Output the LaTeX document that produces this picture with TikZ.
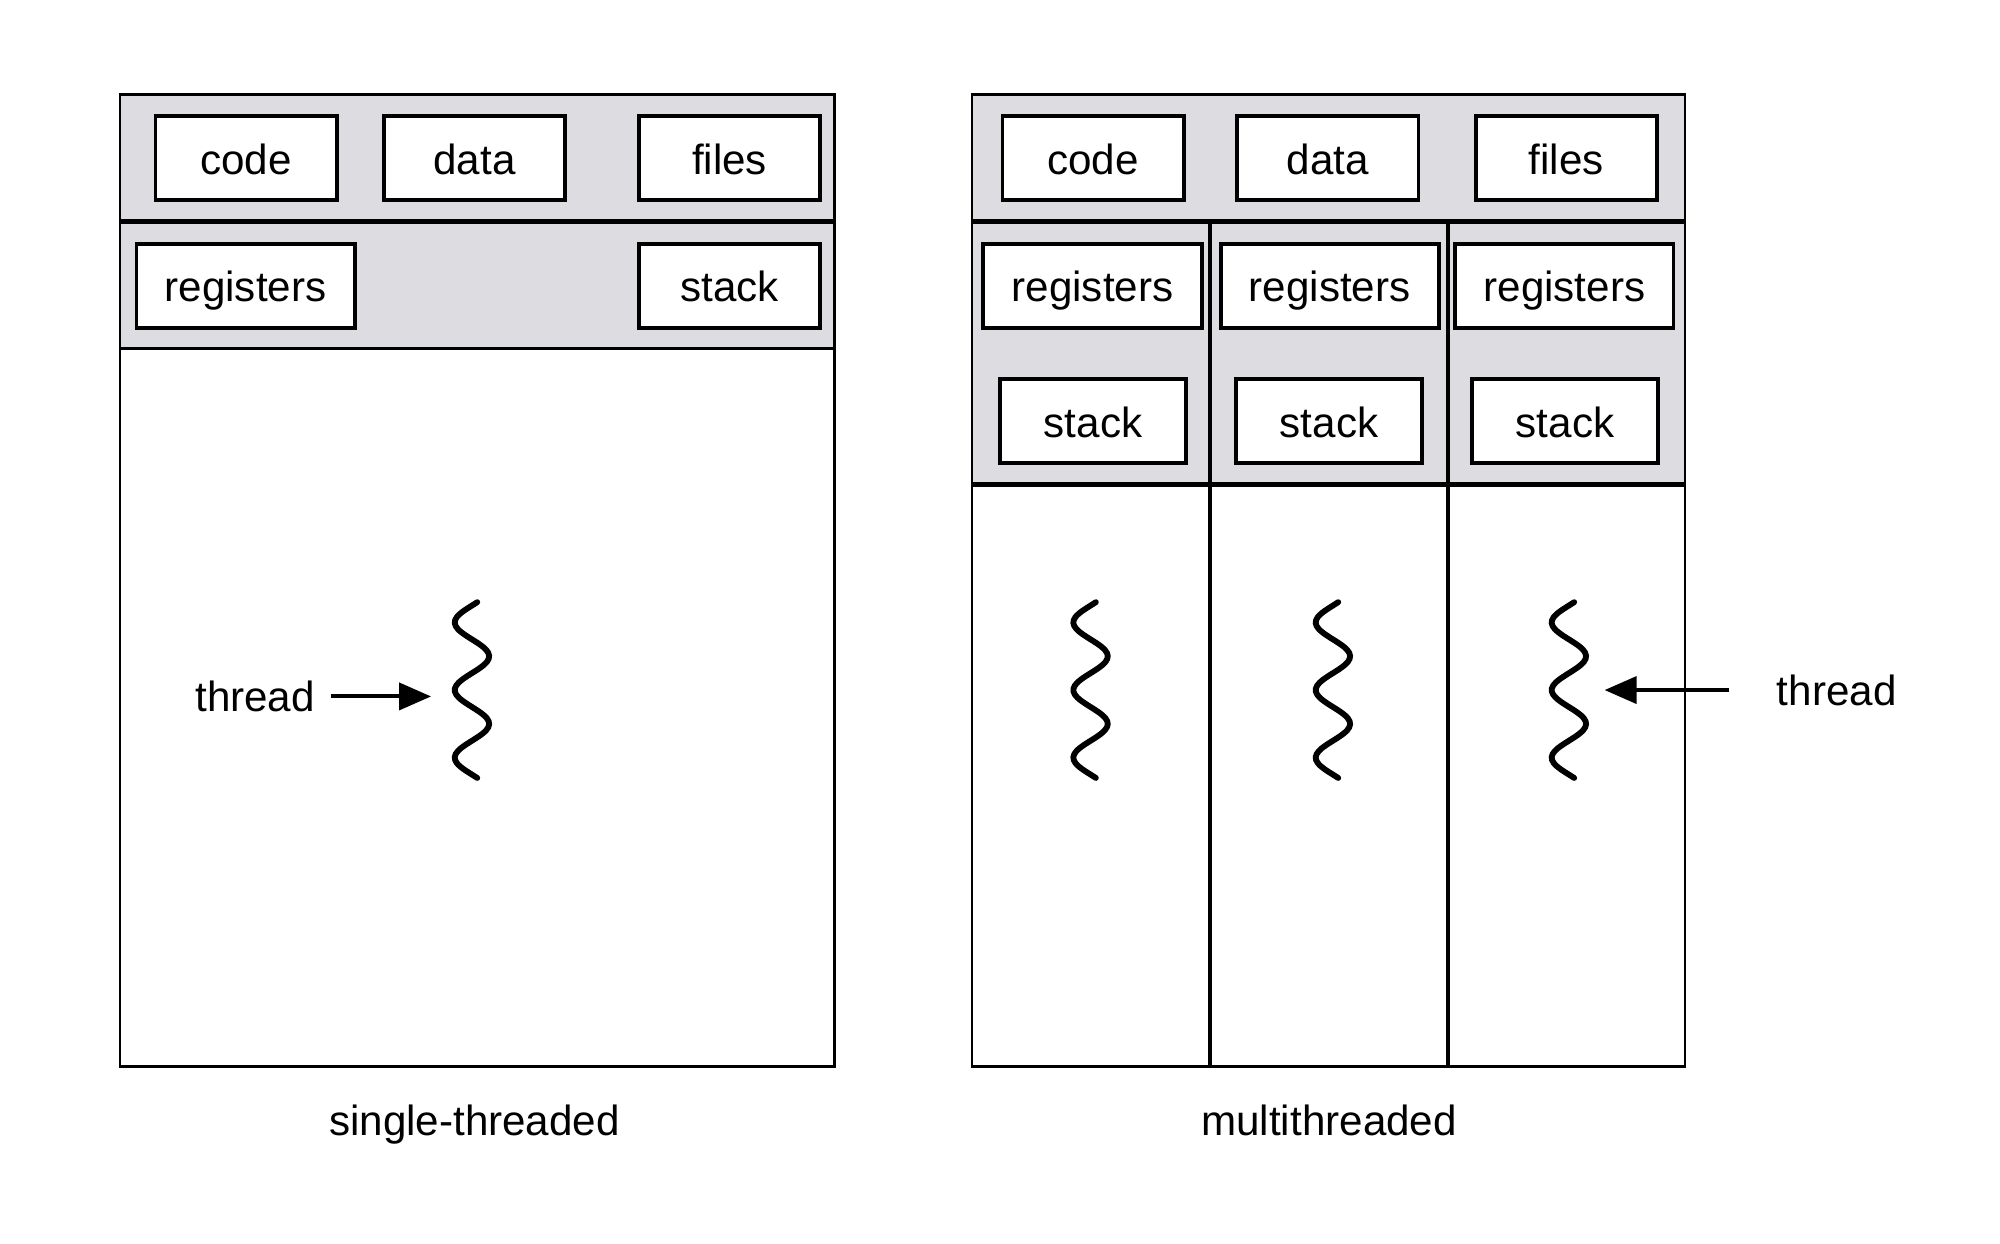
\documentclass[tikz,border=0pt]{standalone}
\usepackage{fontspec}
\setmainfont{Liberation Sans}
\usetikzlibrary{positioning,calc,arrows.meta}
\definecolor{procgray}{RGB}{221,220,224}
\tikzset{font=\fontsize{9.4}{11}\selectfont}
\tikzset{
	membox/.style={draw, line width=0.85pt, fill=white, minimum height=0.66cm, inner sep=0pt, text height=0.72em, text depth=0pt},
	wiggle/.style={line width=1.3pt, line cap=round},
	ptr/.style={line width=0.9pt, -{Triangle[length=2.5mm,width=2.1mm]}},
	thinrule/.style={line width=0.6pt},
	boldrule/.style={line width=1.1pt}
}

\begin{document}
\begin{tikzpicture}[x=0.01cm, y=-0.01cm]
	\useasboundingbox (0,0) rectangle (1568,975);

	% single-threaded process
	\fill[procgray] (94,74) rectangle (654,273);
	\draw[thinrule] (94,74) rectangle (654,836);
	\draw[thinrule] (94,273) -- (654,273);
	\draw[boldrule] (94,174) -- (654,174);

	\node[membox, minimum width=1.42cm] (code0) at (193,124) {code};
	\node[membox, minimum width=1.42cm] (data0) at (372,124) {data};
	\node[membox, minimum width=1.42cm] (files0) at (572,124) {files};
	\node[membox, minimum width=1.71cm] (regs0) at (192.5,224) {registers};
	\node[membox, minimum width=1.42cm] (stack0) at (572,224) {stack};

	% multithreaded process
	\fill[procgray] (762,74) rectangle (1321,380);
	\draw[thinrule] (762,74) rectangle (1321,836);
	\draw[boldrule] (762,174) -- (1321,174);
	\draw[boldrule] (762,380) -- (1321,380);
	\foreach \xx in {949,1135}
		\draw[line width=0.9pt] (\xx,174) -- (\xx,836);

	\node[membox, minimum width=1.42cm] (code1) at (857,124) {code};
	\node[membox, minimum width=1.42cm] (data1) at (1041,124) {data};
	\node[membox, minimum width=1.42cm] (files1) at (1228,124) {files};
	\foreach \i/\xr/\xs in {1/856.5/857, 2/1042.5/1042, 3/1226.5/1227}{
		\node[membox, minimum width=1.71cm] (regs\i) at (\xr,224) {registers};
		\node[membox, minimum width=1.46cm] (stack\i) at (\xs,330) {stack};
	}

	% threads
	\foreach \cx in {370, 855, 1045, 1230}
		\draw[wiggle] plot[smooth, samples=60, domain=-0.6:4.6, variable=\t]
			({\cx-13.5*cos(180*\t)}, {488+26.5*\t});

	\node (lbl0) at (200,546) {thread};
	\coordinate (w0tip) at (338,546);
	\draw[ptr] (lbl0.east) -- (w0tip);

	\node (lbl3) at (1440,541) {thread};
	\coordinate (w3tip) at (1258,541);
	\draw[ptr, shorten <=0.25cm] (lbl3.west) -- (w3tip);

	\node[anchor=base] (cap0) at (372,890) {single-threaded};
	\node[anchor=base] (cap1) at (1042,890) {multithreaded};
\end{tikzpicture}
\end{document}
